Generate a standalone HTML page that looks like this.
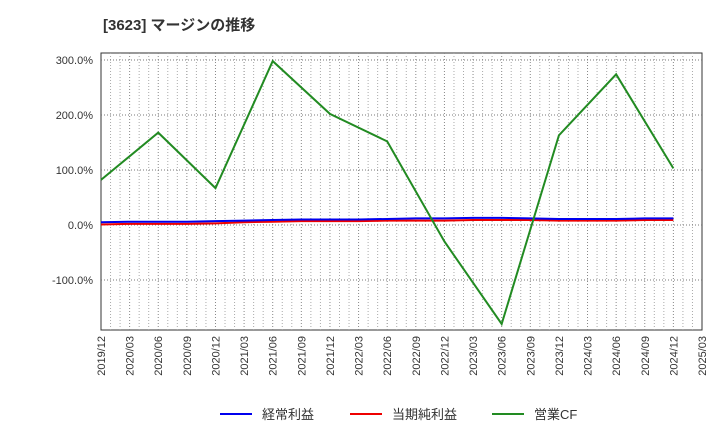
<!DOCTYPE html>
<html><head><meta charset="utf-8"><style>
body{margin:0;background:#fff;font-family:"Liberation Sans","Noto Sans CJK JP",sans-serif;}
</style></head><body>
<svg id="chart" width="720" height="440" xmlns="http://www.w3.org/2000/svg">
<text x="103" y="30" font-size="15" font-weight="bold" fill="#333" font-family="Liberation Sans, Noto Sans CJK JP, sans-serif">[3623]  マージンの推移</text>
<rect x="101" y="53" width="601" height="277" fill="#fff" stroke="#333"/>
<g id="grid"></g><g id="axes"></g><g id="series"></g>
<g font-size="13" fill="#333">
<line x1="220" y1="414" x2="252" y2="414" stroke="#0000ee" stroke-width="2"/>
<text x="262" y="419">経常利益</text>
<line x1="350" y1="414" x2="382" y2="414" stroke="#ee0000" stroke-width="2"/>
<text x="392" y="419">当期純利益</text>
<line x1="492" y1="414" x2="524" y2="414" stroke="#228b22" stroke-width="2"/>
<text x="534" y="419">営業CF</text>
</g>
</svg>
<script>
const xLabels=["2019/12","2020/03","2020/06","2020/09","2020/12","2021/03","2021/06","2021/09","2021/12","2022/03","2022/06","2022/09","2022/12","2023/03","2023/06","2023/09","2023/12","2024/03","2024/06","2024/09","2024/12","2025/03"];
const yTicks=[300,200,100,0,-100];
const keijo=[5,6,6,6,7,8,9,10,10,10,11,12,12,13,13,12,11,11,11,12,12];
const junri=[1,2,2,2,3,5,6,7,7,7,8,8,8,9,9,9,8,8,8,9,9];
const cfIdx=[0,2,4,6,8,10,12,14,16,18,20];
const cfVals=[82,168,67,298,202,152,-30,-180,163,274,103];
const NS="http://www.w3.org/2000/svg";
const X0=101,X1=702,yZero=225,pxPer=0.55;
const xs=i=>X0+i*(X1-X0)/(xLabels.length-1);
const ys=v=>yZero-v*pxPer;
function mk(t,a,p){const e=document.createElementNS(NS,t);for(const k in a)e.setAttribute(k,a[k]);p.appendChild(e);return e;}
const grid=document.getElementById('grid'),axes=document.getElementById('axes'),ser=document.getElementById('series');
for(let m=1;m<(xLabels.length-1)*3;m++){
 const x=xs(m/3);
 const g=mk('line',{x1:x,y1:53,x2:x,y2:330,stroke:m%3===0?'#888':'#aaa','stroke-dasharray':'1,2'},grid);
 
 
}
xLabels.forEach((l,i)=>{
 const x=xs(i);
 const t=mk('text',{x:x+4,y:336,'font-size':11,fill:'#333','text-anchor':'end',transform:`rotate(-90 ${x+4} 336)`},axes);
 t.textContent=l;
 
 
});
yTicks.forEach(v=>{const y=ys(v);
 const g=mk('line',{x1:101,y1:y,x2:702,y2:y,stroke:'#777','stroke-dasharray':'1,2'},grid);
 
 
 const t=mk('text',{x:93,y:y+4,'font-size':11,fill:'#333','text-anchor':'end'},axes);
 t.textContent=v.toFixed(1)+'%';
 
 });
function line(vals,idx,color,name){
 const pts=vals.map((v,k)=>xs(idx?idx[k]:k)+','+ys(v)).join(' ');
 const p=mk('polyline',{points:pts,fill:'none',stroke:color,'stroke-width':2},ser);
 
 }
line(junri,null,'#ee0000','series-junri');
line(keijo,null,'#0000ee','series-keijo');
line(cfVals,cfIdx,'#228b22','series-cf');
</script>
</body></html>
